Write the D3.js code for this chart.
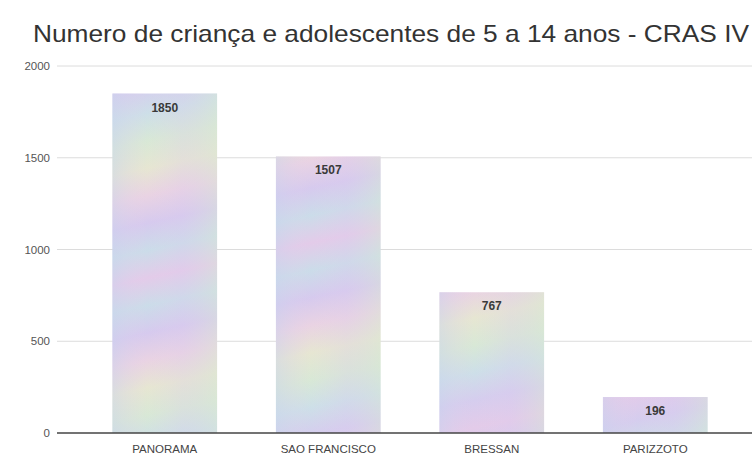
<!DOCTYPE html>
<html>
<head>
<meta charset="utf-8" />
<script src="https://cdn.jsdelivr.net/npm/d3@7"></script>
<style>
  body { margin: 0; background: #fff; }
  svg { font-family: "Liberation Sans", Arial, sans-serif; }
</style>
</head>
<body>
<div id="chart"></div>
<script>
// chart data
var bairros = ["PANORAMA", "SAO FRANCISCO", "BRESSAN", "PARIZZOTO"];
var valores = [1850, 1507, 767, 196];
var yTicks = [0, 500, 1000, 1500, 2000];
var titulo = "Numero de criança e adolescentes de 5 a 14 anos - CRAS IV";

var W = 752, H = 455;

var svg = d3.select("#chart").append("svg")
    .attr("width", W)
    .attr("height", H);

// soft pastel "holographic" fill for the bars
var defs = svg.append("defs");
var pastel = ["#e3cbe9", "#d5cdee", "#cddfe8", "#d8e8d6", "#e6e6d2", "#e9d3e3", "#d6caee", "#cbdce9", "#e3cbe9"];
var grad = defs.append("linearGradient")
    .attr("id", "holo")
    .attr("gradientUnits", "userSpaceOnUse")
    .attr("x1", 0).attr("y1", 90)
    .attr("x2", 45).attr("y2", 300)
    .attr("spreadMethod", "reflect");
pastel.forEach(function(c, i) {
  grad.append("stop")
    .attr("offset", (i / (pastel.length - 1) * 100) + "%")
    .attr("stop-color", c);
});
var grad2 = defs.append("linearGradient")
    .attr("id", "holo2")
    .attr("x1", "0%").attr("y1", "0%")
    .attr("x2", "100%").attr("y2", "0%");
[["#c9d3ee", 0.45], ["#e4d0ea", 0.0], ["#dccbee", 0.25], ["#d8e6d4", 0.45]].forEach(function(s, i) {
  grad2.append("stop")
    .attr("offset", (i / 3 * 100) + "%")
    .attr("stop-color", s[0])
    .attr("stop-opacity", s[1]);
});

var x = d3.scaleBand()
    .domain(bairros)
    .range([83, 737])
    .paddingInner(0.36)
    .paddingOuter(0.18);

var y = d3.scaleLinear()
    .domain([0, 2000])
    .range([433, 66]);

// title
svg.append("text")
    .attr("x", 33)
    .attr("y", 42)
    .attr("fill", "#333")
    .style("font-size", "24px")
    .attr("textLength", 716)
    .attr("lengthAdjust", "spacingAndGlyphs")
    .text(titulo);

// gridlines
svg.append("g")
    .selectAll("line")
    .data(yTicks.slice(1))
    .enter().append("line")
    .attr("x1", 57)
    .attr("x2", W)
    .attr("y1", function(d) { return y(d); })
    .attr("y2", function(d) { return y(d); })
    .style("stroke", "#dcdcdc")
    .style("stroke-width", 1);

// y tick labels
svg.append("g")
    .selectAll("text")
    .data(yTicks)
    .enter().append("text")
    .attr("x", 50)
    .attr("y", function(d) { return y(d) + 4; })
    .attr("text-anchor", "end")
    .attr("fill", "#555")
    .style("font-size", "11.5px")
    .text(function(d) { return d; });

// bars
var bars = svg.append("g");
bars.selectAll(".bar")
    .data(valores)
    .enter().append("rect")
    .attr("class", "bar")
    .attr("x", function(d, i) { return x(bairros[i]); })
    .attr("y", function(d) { return y(d); })
    .attr("width", x.bandwidth())
    .attr("height", function(d) { return y(0) - y(d); })
    .style("fill", "url(#holo)");
bars.selectAll(".bar2")
    .data(valores)
    .enter().append("rect")
    .attr("class", "bar2")
    .attr("x", function(d, i) { return x(bairros[i]); })
    .attr("y", function(d) { return y(d); })
    .attr("width", x.bandwidth())
    .attr("height", function(d) { return y(0) - y(d); })
    .style("fill", "url(#holo2)");

// value labels
svg.append("g")
    .selectAll("text")
    .data(valores)
    .enter().append("text")
    .attr("x", function(d, i) { return x(bairros[i]) + x.bandwidth() / 2; })
    .attr("y", function(d) { return y(d) + 18; })
    .attr("text-anchor", "middle")
    .attr("fill", "#3a3a3a")
    .style("font-size", "12px")
    .style("font-weight", "bold")
    .text(function(d) { return d; });

// baseline
svg.append("line")
    .attr("x1", 57)
    .attr("x2", W)
    .attr("y1", y(0))
    .attr("y2", y(0))
    .style("stroke", "#444")
    .style("stroke-width", 1.5);

// category labels
svg.append("g")
    .selectAll("text")
    .data(bairros)
    .enter().append("text")
    .attr("x", function(d) { return x(d) + x.bandwidth() / 2; })
    .attr("y", 453)
    .attr("text-anchor", "middle")
    .attr("fill", "#444")
    .style("font-size", "11.5px")
    .text(function(d) { return d; });
</script>
</body>
</html>
